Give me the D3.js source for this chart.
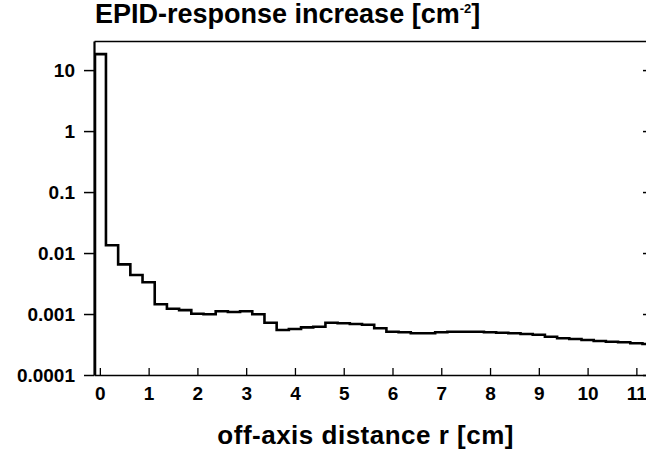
<!DOCTYPE html>
<html>
<head>
<meta charset="utf-8">
<script src="https://cdn.jsdelivr.net/npm/d3@7/dist/d3.min.js"></script>
<style>
  body { margin: 0; background: #fff; }
  svg { display: block; }
</style>
</head>
<body>
<svg id="chart" width="646" height="452"></svg>
<script>
// bin centres in cm (0.25 cm wide annuli)
const radius = [0, 0.25, 0.5, 0.75, 1, 1.25, 1.5, 1.75, 2, 2.25, 2.5, 2.75, 3, 3.25, 3.5, 3.75,
  4, 4.25, 4.5, 4.75, 5, 5.25, 5.5, 5.75, 6, 6.25, 6.5, 6.75, 7, 7.25, 7.5, 7.75,
  8, 8.25, 8.5, 8.75, 9, 9.25, 9.5, 9.75, 10, 10.25, 10.5, 10.75, 11, 11.25];
// EPID-response increase per bin [cm^-2]
const response = [18.3, 0.0134, 0.00653, 0.00436, 0.00331, 0.00145, 0.00122, 0.00116, 0.00101, 0.00099,
  0.00111, 0.00108, 0.00111, 0.00099, 0.00072, 0.000547, 0.000568, 0.000605, 0.000619, 0.00072,
  0.000704, 0.000686, 0.000668, 0.000583, 0.000513, 0.000501, 0.000483, 0.000483, 0.000501, 0.000513,
  0.000513, 0.000513, 0.000501, 0.000494, 0.000483, 0.00047, 0.000458, 0.000425, 0.0004, 0.000389,
  0.000375, 0.000361, 0.000351, 0.000344, 0.000331, 0.000322];
const binWidth = 0.25;
const firstEdge = -0.1;

const xTicks = [0, 1, 2, 3, 4, 5, 6, 7, 8, 9, 10, 11];
const yTicks = [0.0001, 0.001, 0.01, 0.1, 1, 10];
const yTickLabels = ['0.0001', '0.001', '0.01', '0.1', '1', '10'];

const font = '"Liberation Sans", Arial, Helvetica, sans-serif';
const svg = d3.select('#chart');

const margin = { top: 41, right: -5, bottom: 77, left: 94 };
const width = 646 - margin.left - margin.right;
const height = 452 - margin.top - margin.bottom;

const x = d3.scaleLinear().domain([-0.12, 11.3]).range([0, width]);
const y = d3.scaleLog().domain([0.0001, 30]).range([height, 0]);

const chart = svg.append('g').attr('transform', `translate(${margin.left},${margin.top})`);

chart.append('clipPath').attr('id', 'plot-clip')
  .append('rect').attr('width', width).attr('height', height);

// histogram outline
const pts = [[firstEdge, y.domain()[0]]];
radius.forEach((r, i) => {
  const left = i === 0 ? firstEdge : r - binWidth / 2;
  pts.push([left, response[i]]);
  pts.push([r + binWidth / 2, response[i]]);
});
const line = d3.line().x(d => x(d[0])).y(d => y(d[1]));
chart.append('path')
  .attr('clip-path', 'url(#plot-clip)')
  .attr('d', line(pts))
  .attr('fill', 'none')
  .attr('stroke', '#000')
  .attr('stroke-width', 2.6)
  .attr('stroke-linejoin', 'miter');

// left axis
const yAxis = chart.append('g')
  .call(d3.axisLeft(y).tickValues(yTicks).tickFormat((d, i) => yTickLabels[i])
    .tickSizeInner(10).tickSizeOuter(0).tickPadding(9));
yAxis.select('.domain').attr('stroke-width', 2.2);
yAxis.selectAll('.tick line').attr('stroke-width', 1.5);

// right axis, ticks pointing in
const yAxisRight = chart.append('g')
  .attr('transform', `translate(${width},0)`)
  .call(d3.axisRight(y).tickValues(yTicks).tickFormat('').tickSizeInner(-8).tickSizeOuter(0));
yAxisRight.selectAll('.tick line').attr('stroke-width', 1.5);

// bottom axis, ticks pointing in
const xAxis = chart.append('g')
  .attr('transform', `translate(0,${height})`)
  .call(d3.axisBottom(x).tickValues(xTicks).tickFormat(d3.format('d'))
    .tickSizeInner(-7).tickSizeOuter(0).tickPadding(12));
xAxis.select('.domain').attr('stroke-width', 1.6);
xAxis.selectAll('.tick line').attr('stroke-width', 1.3);

// top border
chart.append('g')
  .call(d3.axisTop(x).tickValues([]).tickSizeOuter(0))
  .select('.domain').attr('stroke-width', 1.6);

chart.selectAll('.tick text')
  .attr('font-family', font)
  .attr('font-weight', 'bold')
  .attr('font-size', 19)
  .attr('fill', '#000');

// title
const title = svg.append('text')
  .attr('x', 95).attr('y', 23)
  .attr('font-family', font).attr('font-weight', 'bold').attr('font-size', 27);
title.append('tspan').text('EPID-response increase [cm');
title.append('tspan').attr('font-size', 13).attr('dy', -10).text('-2');
title.append('tspan').attr('dy', 10).text(']');

// x axis label
svg.append('text')
  .attr('x', margin.left + x(5.45)).attr('y', 444)
  .attr('text-anchor', 'middle')
  .attr('font-family', font).attr('font-weight', 'bold').attr('font-size', 26)
  .attr('letter-spacing', 0.5)
  .text('off-axis distance r [cm]');
</script>
</body>
</html>
